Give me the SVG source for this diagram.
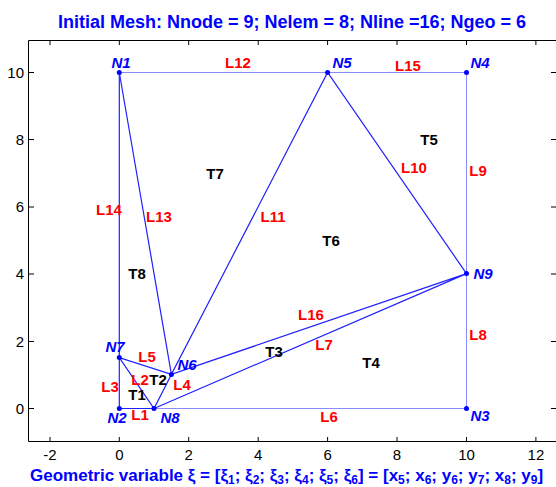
<svg xmlns="http://www.w3.org/2000/svg" width="556" height="487" viewBox="0 0 556 487">
<style>
.ax{stroke:#000;stroke-width:1;fill:none}
.tk{font-family:"Liberation Sans",Arial,sans-serif;font-size:15px;fill:#000}
.bd{stroke:#8a8aff;stroke-width:1;fill:none}
.ln{stroke:#2020ff;stroke-width:1.2;fill:none}
.nd{fill:#0000ff}
.nl{font-family:"Liberation Sans",Arial,sans-serif;font-size:15px;font-weight:bold;font-style:italic;fill:#0000ff;text-anchor:middle}
.ll{font-family:"Liberation Sans",Arial,sans-serif;font-size:15px;font-weight:bold;fill:#ff0000;text-anchor:middle}
.tl{font-family:"Liberation Sans",Arial,sans-serif;font-size:15px;font-weight:bold;fill:#000;text-anchor:middle}
.ti{font-family:"Liberation Sans",Arial,sans-serif;font-weight:bold;fill:#0000ff}
</style>
<rect width="556" height="487" fill="#fff"/>
<g id="axes">
<path class="ax" d="M556 40.5H28.5V441.5H556"/>
<path class="ax" d="M50 441V437M119.3 441V437M188.7 441V437M258.2 441V437M327.6 441V437M397 441V437M466.5 441V437M535.9 441V437"/>
<path class="ax" d="M50 41V45M119.3 41V45M188.7 41V45M258.2 41V45M327.6 41V45M397 41V45M466.5 41V45M535.9 41V45"/>
<path class="ax" d="M29 72.5H34M29 139.5H34M29 207H34M29 274H34M29 341.5H34M29 408.5H34"/>
<path class="ax" d="M556 72.5H551M556 139.5H551M556 207H551M556 274H551M556 341.5H551M556 408.5H551"/>
<g class="tk" text-anchor="middle">
<text x="50" y="460">-2</text><text x="119.3" y="460">0</text><text x="188.7" y="460">2</text><text x="258.2" y="460">4</text><text x="327.6" y="460">6</text><text x="397" y="460">8</text><text x="466.5" y="460">10</text><text x="535.9" y="460">12</text>
</g>
<g class="tk" text-anchor="end">
<text x="24" y="77.5">10</text><text x="24" y="144.5">8</text><text x="24" y="212">6</text><text x="24" y="279">4</text><text x="24" y="346.5">2</text><text x="24" y="413.5">0</text>
</g>
</g>
<text class="ti" x="292" y="28" font-size="18" text-anchor="middle">Initial Mesh: Nnode = 9; Nelem = 8; Nline =16; Ngeo = 6</text>
<text class="ti" x="30" y="481" font-size="17">Geometric variable ξ = [ξ<tspan font-size="12" dy="3">1</tspan><tspan dy="-3">; ξ</tspan><tspan font-size="12" dy="3">2</tspan><tspan dy="-3">; ξ</tspan><tspan font-size="12" dy="3">3</tspan><tspan dy="-3">; ξ</tspan><tspan font-size="12" dy="3">4</tspan><tspan dy="-3">; ξ</tspan><tspan font-size="12" dy="3">5</tspan><tspan dy="-3">; ξ</tspan><tspan font-size="12" dy="3">6</tspan><tspan dy="-3">] = [x</tspan><tspan font-size="12" dy="3">5</tspan><tspan dy="-3">; x</tspan><tspan font-size="12" dy="3">6</tspan><tspan dy="-3">; y</tspan><tspan font-size="12" dy="3">6</tspan><tspan dy="-3">; y</tspan><tspan font-size="12" dy="3">7</tspan><tspan dy="-3">; x</tspan><tspan font-size="12" dy="3">8</tspan><tspan dy="-3">; y</tspan><tspan font-size="12" dy="3">9</tspan><tspan dy="-3">]</tspan></text>
<g id="connectors">
<path class="bd" d="M119.3 72.5H466.5V408.5H154"/>
<path class="ln" d="M154 408.5H119.3V72.5"/>
<path class="ln" d="M119.3 72.5L171.4 374.4L327.6 72.5L466.5 273.6L171.4 374.4L119.3 357.6L154 408.5L171.4 374.4M154 408.5L466.5 273.6"/>
</g>
<g class="ll">
<text x="140" y="420">L1</text>
<text x="140" y="385">L2</text>
<text x="110" y="392">L3</text>
<text x="182" y="390">L4</text>
<text x="147" y="362">L5</text>
<text x="329" y="422">L6</text>
<text x="324" y="350">L7</text>
<text x="478" y="340">L8</text>
<text x="478" y="176">L9</text>
<text x="414" y="173">L10</text>
<text x="273" y="222">L11</text>
<text x="238" y="68">L12</text>
<text x="159" y="222">L13</text>
<text x="109" y="215">L14</text>
<text x="408" y="71">L15</text>
<text x="311" y="320">L16</text>
</g>
<g class="tl">
<text x="137" y="400">T1</text>
<text x="158" y="385">T2</text>
<text x="274" y="357">T3</text>
<text x="371" y="368">T4</text>
<text x="429" y="145">T5</text>
<text x="331" y="246">T6</text>
<text x="215" y="179">T7</text>
<text x="137" y="279">T8</text>
</g>
<g id="N1"><circle class="nd" cx="119.3" cy="72.5" r="2.5"/><text class="nl" x="121" y="68">N1</text></g>
<g id="N2"><circle class="nd" cx="119.3" cy="408.5" r="2.5"/><text class="nl" x="117" y="423">N2</text></g>
<g id="N3"><circle class="nd" cx="466.5" cy="408.5" r="2.5"/><text class="nl" x="480" y="421">N3</text></g>
<g id="N4"><circle class="nd" cx="466.5" cy="72.5" r="2.5"/><text class="nl" x="480" y="68">N4</text></g>
<g id="N5"><circle class="nd" cx="327.6" cy="72.5" r="2.5"/><text class="nl" x="342" y="68">N5</text></g>
<g id="N6"><circle class="nd" cx="171.4" cy="374.4" r="2.5"/><text class="nl" x="187" y="370">N6</text></g>
<g id="N7"><circle class="nd" cx="119.3" cy="357.6" r="2.5"/><text class="nl" x="115" y="352">N7</text></g>
<g id="N8"><circle class="nd" cx="154" cy="408.5" r="2.5"/><text class="nl" x="170" y="423">N8</text></g>
<g id="N9"><circle class="nd" cx="466.5" cy="273.6" r="2.5"/><text class="nl" x="483" y="279">N9</text></g>
</svg>
